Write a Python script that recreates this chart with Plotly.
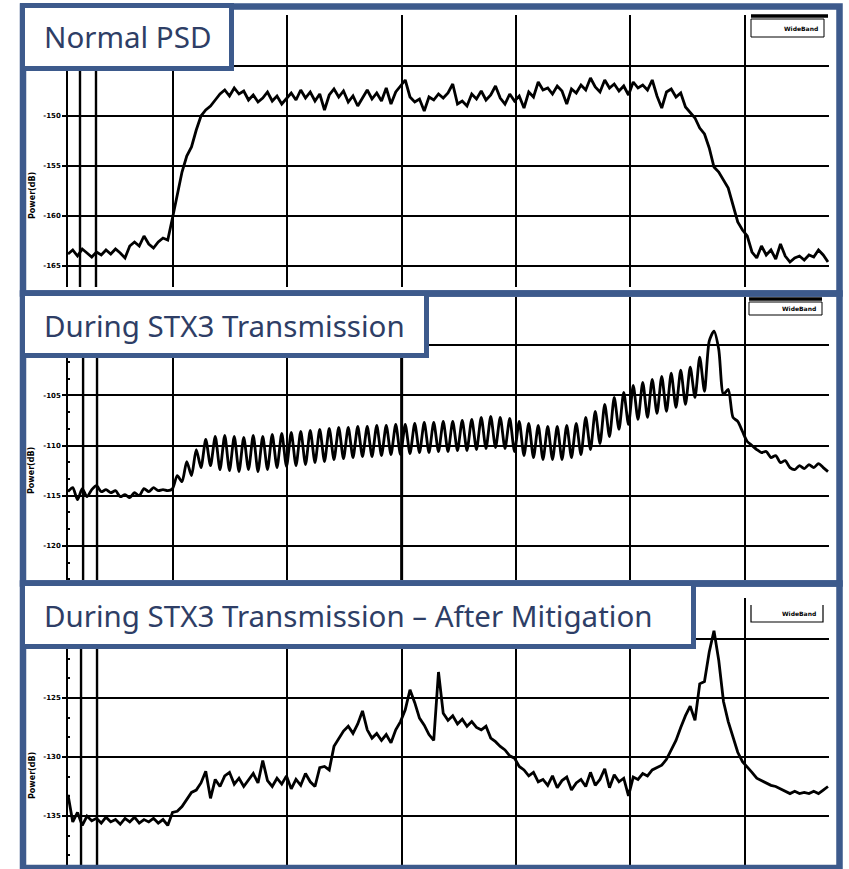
import numpy as np
import plotly.graph_objects as go

# ---------------- data ----------------
# Frequency axis (arbitrary units, vertical grid every 10 units)
FREQ_START = -9.19
FREQ_STOP = 57.30

panel_titles = ["Normal PSD", "During STX3 Transmission",
                "During STX3 Transmission \u2013 After Mitigation"]
legend_label = "WideBand"
y_axis_title = "Power(dB)"

# Panel 1 : Normal PSD (dB)
normal_psd = [
    -163.8, -163.4, -164.0, -163.3, -163.7, -164.1, -163.6, -163.9, -163.4, -163.8,
    -163.3, -163.7, -164.2, -163.0, -162.6, -163.0, -162.0, -162.8, -163.2, -162.6,
    -162.2, -162.4, -160.2, -157.9, -155.6, -154.0, -153.1, -151.4, -150.0, -149.4,
    -149.0, -148.4, -147.8, -147.4, -148.0, -147.2, -147.8, -147.5, -148.4, -147.9,
    -148.6, -148.2, -147.6, -148.5, -148.0, -148.8, -148.3, -147.7, -148.4, -147.4,
    -148.2, -147.6, -148.5, -147.8, -149.4, -147.9, -147.3, -148.1, -147.5, -148.6,
    -148.0, -149.0, -148.2, -147.4, -148.3, -147.7, -148.5, -147.2, -148.8, -147.6,
    -147.0, -146.4, -148.1, -148.6, -148.3, -149.5, -148.1, -148.4, -147.8, -148.2,
    -147.7, -146.8, -148.8, -148.5, -149.0, -147.8, -148.3, -147.5, -148.4, -147.9,
    -147.0, -148.2, -148.8, -147.8, -148.5, -148.0, -149.2, -147.6, -148.1, -146.6,
    -147.4, -147.2, -147.8, -147.0, -147.5, -148.8, -147.3, -147.7, -146.9, -147.4,
    -146.2, -147.1, -147.6, -146.4, -147.2, -146.8, -147.5, -147.0, -147.9, -146.6,
    -147.2, -146.9, -147.4, -146.4, -148.0, -149.2, -147.6, -147.3, -148.1, -147.7,
    -149.1, -149.7, -150.2, -151.2, -151.8, -153.2, -155.1, -155.6, -156.4, -157.2,
    -158.9, -160.6, -161.4, -162.0, -163.6, -164.2, -163.0, -163.9, -163.4, -164.3,
    -162.8, -164.0, -164.6, -164.2, -164.0, -164.4, -163.9, -164.1, -163.4, -163.9,
    -164.6,
]

# Panel 2 : during STX3 transmission (dB)
stx3_psd = [
    -114.6, -114.2, -115.4, -114.3, -115.1, -114.4, -114.0, -114.6, -114.4, -114.7,
    -114.5, -115.1, -114.9, -115.2, -114.7, -115.0, -114.3, -114.6, -114.2, -114.5,
    -114.4, -114.5, -114.3, -113.0, -113.6, -111.6, -113.0, -110.4, -112.2, -109.4,
    -112.0, -109.1, -112.4, -109.0, -112.5, -109.1, -112.6, -109.2, -112.4, -109.0,
    -112.6, -109.1, -112.4, -108.9, -112.2, -108.8, -112.1, -108.7, -112.0, -108.6,
    -111.9, -108.5, -111.7, -108.4, -111.6, -108.3, -111.4, -108.2, -111.3, -108.2,
    -111.2, -108.1, -111.1, -108.1, -111.1, -108.0, -111.0, -108.0, -110.9, -107.9,
    -110.9, -107.9, -110.8, -107.8, -110.7, -107.7, -110.7, -107.7, -110.6, -107.6,
    -110.6, -107.6, -110.5, -107.5, -110.5, -107.4, -110.4, -107.2, -110.3, -107.1,
    -110.2, -107.2, -110.3, -107.3, -110.6, -107.6, -111.0, -107.8, -111.2, -108.0,
    -111.4, -108.1, -111.4, -108.1, -111.4, -108.0, -111.2, -107.8, -110.9, -107.2,
    -110.4, -106.6, -109.8, -105.9, -109.1, -105.2, -108.4, -104.7, -107.9, -104.0,
    -107.4, -103.7, -107.2, -103.4, -106.8, -103.1, -106.6, -102.8, -106.2, -102.5,
    -105.9, -102.2, -105.2, -101.2, -104.6, -99.6, -98.6, -100.4, -104.9, -104.4,
    -107.2, -107.6, -108.6, -109.6, -110.0, -110.4, -110.7, -110.6, -111.2, -111.0,
    -111.7, -111.5, -112.2, -112.4, -112.0, -112.3, -111.9, -112.2, -111.8, -112.2,
    -112.6,
]

# Panel 3 : during STX3 transmission, after mitigation (dB)
mitigated_psd = [
    -133.2, -135.5, -134.7, -135.8, -135.0, -135.4, -135.2, -135.6, -135.1, -135.5,
    -135.3, -135.7, -135.2, -135.5, -135.1, -135.6, -135.3, -135.5, -135.2, -135.6,
    -135.3, -135.8, -134.7, -134.6, -134.2, -133.6, -133.0, -132.8, -132.2, -131.2,
    -133.5, -131.9, -132.5, -131.6, -131.3, -132.3, -131.8, -132.5, -131.9, -131.4,
    -132.2, -130.3, -132.0, -132.5, -131.8, -132.3, -131.6, -132.7, -131.9, -132.4,
    -131.4, -132.1, -132.5, -130.9, -130.8, -131.1, -129.1, -128.4, -127.8, -127.4,
    -128.0, -127.2, -126.1, -127.7, -128.4, -128.0, -128.6, -128.1, -128.8, -127.7,
    -127.0, -126.0, -124.3, -125.4, -126.7, -127.3, -128.1, -128.6, -122.8, -126.3,
    -126.9, -126.5, -127.2, -126.8, -127.4, -127.0, -127.5, -127.7, -127.4, -128.4,
    -128.7, -129.1, -129.4, -129.9, -130.1, -130.8, -131.1, -131.6, -131.3, -132.1,
    -131.9, -132.4, -131.6, -132.6, -132.0, -131.7, -132.8, -132.2, -131.9, -132.5,
    -131.3, -132.4, -131.9, -131.0, -132.6, -131.5, -132.1, -131.8, -133.3, -131.7,
    -131.9, -131.4, -131.6, -131.1, -130.9, -130.7, -130.2, -129.4, -128.6, -127.5,
    -126.5, -125.7, -126.9, -123.8, -123.6, -121.1, -119.3, -121.8, -125.3, -127.0,
    -128.4, -129.6, -130.4, -130.9, -131.3, -131.8, -132.0, -132.2, -132.4, -132.5,
    -132.7, -132.9, -133.1, -132.9, -133.1, -133.0, -133.1, -132.9, -133.1, -132.8,
    -132.5,
]

# y-axis grid values and the labels that are visible (others sit under the title box)
p1_ticks = [-165, -160, -155, -150, -145, -140]
p1_labels = ["-165", "-160", "-155", "-150", "", ""]
p2_ticks = [-120, -115, -110, -105, -100]
p2_labels = ["-120", "-115", "-110", "-105", ""]
p3_ticks = [-135, -130, -125, -120]
p3_labels = ["-135", "-130", "-125", ""]
# marker lines near the left edge (frequency units)
p1_markers = [-8.14, -6.74]
p2_markers = [-7.87, -6.65]
p3_markers = [-8.05, -6.65]

# ---------------- figure ----------------
W, H = 849, 869
BLUE = "#3D5A8C"
TITLE_COLOR = "#2E3E66"


def px(x):
    return x / W


def py(y):
    return 1 - y / H


freq = np.linspace(FREQ_START, FREQ_STOP, len(normal_psd))

fig = go.Figure()
series = [normal_psd, stx3_psd, mitigated_psd]
line_shapes = ["linear", "spline", "linear"]
for k, vals in enumerate(series):
    sfx = "" if k == 0 else str(k + 1)
    fig.add_trace(go.Scatter(
        x=freq, y=vals, mode="lines", xaxis="x" + sfx, yaxis="y" + sfx,
        line=dict(color="black", width=2.8, shape=line_shapes[k],
                  smoothing=0.7 if line_shapes[k] == "spline" else None),
        showlegend=False, hoverinfo="skip"))

xdom = [px(68), px(829)]
xr = [FREQ_START, FREQ_START + (829 - 68) / 11.43]
ydoms = [[py(287), py(15)], [py(580), py(297)], [py(867), py(598)]]
yranges = [[-167.1, -139.9], [-123.4, -95.2], [-139.32, -116.53]]
ticks = [p1_ticks, p2_ticks, p3_ticks]
labels = [p1_labels, p2_labels, p3_labels]
xtickvals = [[0, 10, 20, 30, 40, 50], [0, 10, 20, 30, 40, 50],
             [10, 20, 30, 40, 50]]

layout = dict(width=W, height=H, margin=dict(l=0, r=0, t=0, b=0),
              paper_bgcolor="white", plot_bgcolor="white")
for k in range(3):
    sfx = "" if k == 0 else str(k + 1)
    ax = dict(
        domain=ydoms[k], range=yranges[k], anchor="x" + sfx,
        tickmode="array", tickvals=ticks[k], ticktext=labels[k],
        tickfont=dict(family="DejaVu Sans", size=7, color="black",
                      weight="bold"),
        ticks="outside", ticklen=4, tickwidth=2, tickcolor="black",
        showgrid=True, gridcolor="black", gridwidth=2, zeroline=False,
        showline=True, linecolor="black", linewidth=1.5, fixedrange=True)
    if k > 0:
        ax["minor"] = dict(ticks="inside", ticklen=2, tickwidth=2,
                           tickcolor="black", dtick=5 / 3, showgrid=False)
    layout["yaxis" + sfx] = ax
    layout["xaxis" + sfx] = dict(
        domain=xdom, range=xr, anchor="y" + sfx, tickmode="array",
        tickvals=xtickvals[k], showticklabels=False, ticks="",
        showgrid=True, gridcolor="black", gridwidth=1.6, zeroline=False,
        showline=False, fixedrange=True)
fig.update_layout(**layout)

shapes = []
# marker lines
for k, mk in enumerate([p1_markers, p2_markers, p3_markers]):
    sfx = "" if k == 0 else str(k + 1)
    for m in mk:
        shapes.append(dict(type="line", xref="x" + sfx,
                           yref="y" + sfx + " domain", x0=m, x1=m, y0=0,
                           y1=1, line=dict(color="black", width=2.4)))
# thicker centre grid line in panel 2
shapes.append(dict(type="line", xref="x2", yref="y2 domain", x0=20, x1=20,
                   y0=0, y1=1, line=dict(color="black", width=3)))


def rect(x0, y0, x1, y1, color, width, fill="rgba(0,0,0,0)"):
    return dict(type="rect", xref="paper", yref="paper", x0=px(x0),
                x1=px(x1), y0=py(y0), y1=py(y1),
                line=dict(color=color, width=width), fillcolor=fill,
                layer="above")


# legend boxes
shapes.append(rect(751, 19, 824, 37, "black", 1, "white"))
shapes.append(dict(type="line", xref="paper", yref="paper", x0=px(751),
                   x1=px(828), y0=py(16), y1=py(16),
                   line=dict(color="black", width=3.5), layer="above"))
shapes.append(rect(749, 302, 822, 315, "black", 1, "white"))
shapes.append(dict(type="line", xref="paper", yref="paper", x0=px(749),
                   x1=px(822), y0=py(299), y1=py(299),
                   line=dict(color="black", width=3.5), layer="above"))
shapes.append(dict(type="path", xref="paper", yref="paper",
                   path=f"M {px(751)},{py(605)} L {px(751)},{py(622)} "
                        f"L {px(823)},{py(622)} L {px(823)},{py(605)}",
                   line=dict(color="black", width=1.2), layer="above"))

# blue frames
shapes.append(rect(23, 6.5, 839.5, 293.5, BLUE, 6.5))
shapes.append(rect(23, 293.5, 839.5, 583.5, BLUE, 6.5))
shapes.append(rect(23, 583.5, 839.5, 868, BLUE, 6.5))
# title boxes
shapes.append(rect(22.5, 5.5, 231.5, 68.5, BLUE, 5, "white"))
shapes.append(rect(22.5, 293.5, 426.5, 355.5, BLUE, 5, "white"))
shapes.append(rect(22.5, 583.5, 693.5, 646.5, BLUE, 5, "white"))

annotations = []
for t, yc in zip(panel_titles, [36, 325, 615]):
    annotations.append(dict(text=t, xref="paper", yref="paper", x=px(42),
                            y=py(yc), xanchor="left", yanchor="middle",
                            showarrow=False,
                            font=dict(family="Noto Sans", size=29.5,
                                      color=TITLE_COLOR)))
for yc in [195, 470, 775]:
    annotations.append(dict(text=y_axis_title, xref="paper", yref="paper",
                            x=px(32), y=py(yc), textangle=-90,
                            xanchor="center", yanchor="middle",
                            showarrow=False,
                            font=dict(family="DejaVu Sans", size=8,
                                      color="black", weight="bold")))
for xr_, yc in [(820, 28), (818, 308.5), (818, 613)]:
    annotations.append(dict(text=legend_label, xref="paper", yref="paper",
                            x=px(xr_), y=py(yc), xanchor="right",
                            yanchor="middle", showarrow=False,
                            font=dict(family="DejaVu Sans", size=6,
                                      color="black", weight="bold")))

fig.update_layout(shapes=shapes, annotations=annotations)
fig.write_html("out.html")
